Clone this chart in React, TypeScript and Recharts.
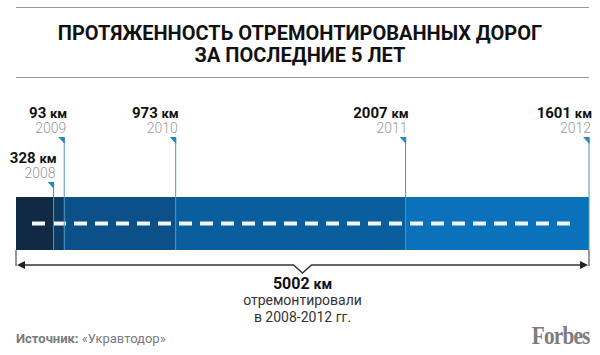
import React from "react";
import { BarChart, Bar, XAxis, YAxis, ReferenceLine, ReferenceArea } from "recharts";

// road repairs per year, km
const years = ["2008", "2009", "2010", "2011", "2012"];
const repairedKm = [328, 93, 973, 2007, 1601];
const totalKm = 5002;
const unit = "км";

const titleLines = ["ПРОТЯЖЕННОСТЬ ОТРЕМОНТИРОВАННЫХ ДОРОГ", "ЗА ПОСЛЕДНИЕ 5 ЛЕТ"];
const totalNote = ["отремонтировали", "в 2008-2012 гг."];
const sourceLabel = "Источник:";
const sourceName = "«Укравтодор»";

const segmentColors = ["#102a44", "#0c3c63", "#0b5089", "#095e9d", "#0a71bb"];
const flagRise = [15, 60, 60, 60, 60];
const FONT = "Roboto, 'Open Sans', sans-serif";

const chartData = [
  years.reduce<Record<string, any>>((acc, y, i) => {
    acc[y] = repairedKm[i];
    return acc;
  }, { name: "road" }),
];

const flagEnds = repairedKm.map((_, i) =>
  repairedKm.slice(0, i + 1).reduce((a, b) => a + b, 0)
);

const renderFlag = (i: number) => (props: any) => {
  const vb = props.viewBox || {};
  const x = vb.x;
  const base = vb.y + vb.height;
  const top = vb.y - flagRise[i];
  return (
    <g>
      <line x1={x} x2={x} y1={top} y2={base} stroke="#4f93bb" strokeWidth={1} />
      <polygon
        points={`${x - 6},${top} ${x + 0.5},${top} ${x + 0.5},${top + 7}`}
        fill="#2a88b9"
      />
      <text
        x={x + 3}
        y={top - 19}
        textAnchor="end"
        fontFamily={FONT}
        fontWeight={700}
        fontSize={15}
        fill="#111"
      >
        {repairedKm[i]} <tspan fontSize={13}>{unit}</tspan>
      </text>
      <text
        x={x + 2}
        y={top - 4}
        textAnchor="end"
        fontFamily={FONT}
        fontWeight={300}
        fontSize={14}
        fill="#9a9a9a"
      >
        {years[i]}
      </text>
    </g>
  );
};

// white road marking along the middle of the bar
const renderMarking = (props: any) => {
  const vb = props.viewBox || {};
  const y = vb.y + (vb.height || 0) / 2;
  return (
    <line
      x1={vb.x + 16}
      x2={vb.x + vb.width - 16}
      y1={y}
      y2={y}
      stroke="#f2f6fa"
      strokeWidth={4}
      strokeDasharray="13 8"
    />
  );
};

const TotalBrace = (props: any) => {
  const { x, y, width, height } = props;
  const bottom = y + height;
  const ay = bottom + 15;
  const cx = x + width / 2;
  const right = x + width;
  return (
    <g>
      <line x1={x} x2={x} y1={bottom} y2={ay + 1} stroke="#333" strokeWidth={1} />
      <line x1={right} x2={right} y1={bottom} y2={ay + 1} stroke="#333" strokeWidth={1} />
      <polyline
        points={`${x + 4},${ay} ${cx - 9},${ay} ${cx},${ay + 8} ${cx + 9},${ay} ${right - 4},${ay}`}
        fill="none"
        stroke="#333"
        strokeWidth={1.5}
      />
      <polygon points={`${x + 1},${ay} ${x + 9},${ay - 4} ${x + 9},${ay + 4}`} fill="#222" />
      <polygon points={`${right - 1},${ay} ${right - 9},${ay - 4} ${right - 9},${ay + 4}`} fill="#222" />
      <text x={cx} y={ay + 24} textAnchor="middle" fontFamily={FONT} fontWeight={700} fontSize={16} fill="#111">
        {totalKm} <tspan fontSize={14}>{unit}</tspan>
      </text>
      {totalNote.map((t, i) => (
        <text key={t} x={cx} y={ay + 40 + i * 17} textAnchor="middle" fontFamily={FONT} fontSize={14} fill="#333">
          {t}
        </text>
      ))}
    </g>
  );
};

export default function App() {
  return (
    <div style={{ position: "absolute", left: 0, top: 0, width: 600, height: 355, background: "#fff", fontFamily: FONT }}>
      <div style={{ position: "absolute", left: 16, width: 573, top: 7, borderTop: "1px solid #9a9a9a" }} />
      <div style={{ position: "absolute", left: 16, width: 573, top: 77, borderTop: "1px solid #9a9a9a" }} />
      {titleLines.map((t, i) => (
        <div
          key={t}
          style={{
            position: "absolute",
            left: 0,
            width: 600,
            top: 21 + i * 22,
            textAlign: "center",
            fontSize: 20,
            lineHeight: "24px",
            fontWeight: 700,
            color: "#111",
          }}
        >
          {t}
        </div>
      ))}
      <BarChart
        width={600}
        height={355}
        data={chartData}
        layout="vertical"
        barCategoryGap={0}
        margin={{ top: 197, bottom: 105, left: 16, right: 11 }}
        style={{ position: "absolute", left: 0, top: 0 }}
      >
        <XAxis type="number" domain={[0, totalKm]} hide />
        <YAxis type="category" dataKey="name" hide />
        {years.map((y, i) => (
          <Bar key={y} dataKey={y} stackId="road" fill={segmentColors[i]} isAnimationActive={false} />
        ))}
        <ReferenceArea x1={0} x2={totalKm} fill="none" shape={TotalBrace} />
        <ReferenceLine y="road" stroke="none" label={renderMarking} />
        {flagEnds.map((end, i) => (
          <ReferenceLine key={years[i]} x={end} stroke="none" label={renderFlag(i)} />
        ))}
      </BarChart>
      <div style={{ position: "absolute", left: 16, top: 331, fontSize: 13, color: "#7a7a7a" }}>
        <b>{sourceLabel}</b> {sourceName}
      </div>
      <div
        style={{
          position: "absolute",
          right: 10,
          top: 321,
          fontFamily: "'Liberation Serif', serif",
          fontWeight: 700,
          fontSize: 26,
          letterSpacing: -1,
          color: "#7c7c7c",
          transform: "scaleX(0.82)",
          transformOrigin: "right center",
        }}
      >
        Forbes
      </div>
    </div>
  );
}
